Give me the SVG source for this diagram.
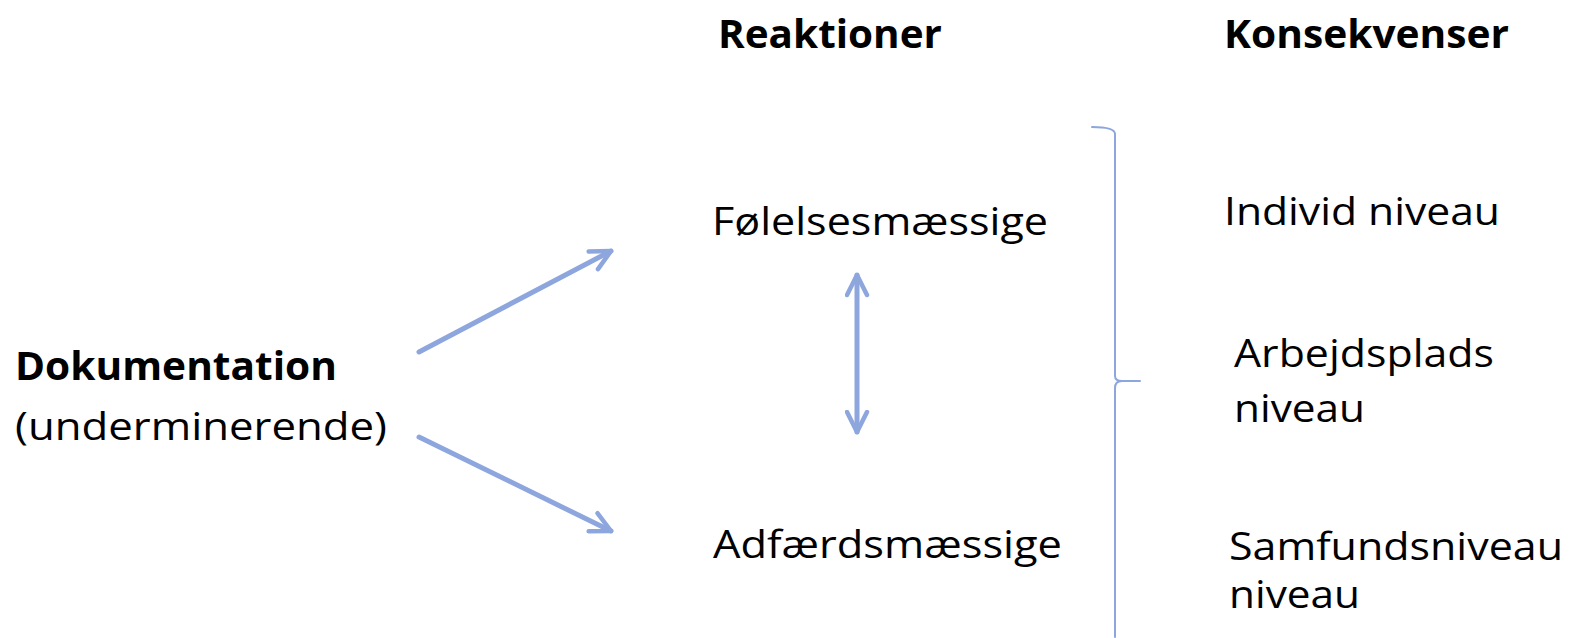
<svg xmlns="http://www.w3.org/2000/svg" width="1571" height="638" viewBox="0 0 1571 638">
<style>
text{font-family:"Open Sans","Noto Sans",sans-serif;font-size:39px;fill:#000}
.b{font-weight:bold}
.c{stroke:#8EA6DE;fill:none;stroke-linecap:round;stroke-linejoin:round}
</style>
<defs>
<marker id="ah" viewBox="0 0 10 10" refX="9" refY="5" markerWidth="5" markerHeight="5" orient="auto-start-reverse" markerUnits="strokeWidth">
<path d="M1,1 L9,5 L1,9" stroke="#8EA6DE" stroke-width="1.8" fill="none" stroke-linecap="round" stroke-linejoin="round"/>
</marker>
</defs>
<rect width="1571" height="638" fill="#fff"/>
<g id="headers">
<text class="b" x="718" y="48" textLength="224" lengthAdjust="spacingAndGlyphs">Reaktioner</text>
<text class="b" x="1224" y="48" textLength="285" lengthAdjust="spacingAndGlyphs">Konsekvenser</text>
</g>
<g id="dokumentation">
<text class="b" x="15" y="380" textLength="322" lengthAdjust="spacingAndGlyphs">Dokumentation</text>
<text x="15" y="440" textLength="372" lengthAdjust="spacingAndGlyphs">(underminerende)</text>
</g>
<g id="folelses"><text x="712" y="235" textLength="336" lengthAdjust="spacingAndGlyphs">Følelsesmæssige</text></g>
<g id="adfaerds"><text x="713" y="558" textLength="349" lengthAdjust="spacingAndGlyphs">Adfærdsmæssige</text></g>
<g id="individ"><text x="1224" y="225" textLength="276" lengthAdjust="spacingAndGlyphs">Individ niveau</text></g>
<g id="arbejdsplads"><text x="1234" y="367" textLength="260" lengthAdjust="spacingAndGlyphs">Arbejdsplads</text><text x="1234" y="422" textLength="131" lengthAdjust="spacingAndGlyphs">niveau</text></g>
<g id="samfund"><text x="1229" y="560" textLength="334" lengthAdjust="spacingAndGlyphs">Samfundsniveau</text><text x="1229" y="608" textLength="131" lengthAdjust="spacingAndGlyphs">niveau</text></g>
<g id="connectors">
<line class="c" x1="419" y1="352" x2="611" y2="251" stroke-width="5" marker-end="url(#ah)"/>
<line class="c" x1="419" y1="437" x2="611" y2="531" stroke-width="5" marker-end="url(#ah)"/>
<line class="c" x1="857" y1="275" x2="857" y2="432" stroke-width="5" marker-start="url(#ah)" marker-end="url(#ah)"/>
<path class="c" stroke-width="2" d="M1092,127 Q1115,127 1115,134 L1115,376 Q1115,381 1122,381 L1140,381 M1122,381 Q1115,381 1115,388 L1115,637"/>
</g>
</svg>
